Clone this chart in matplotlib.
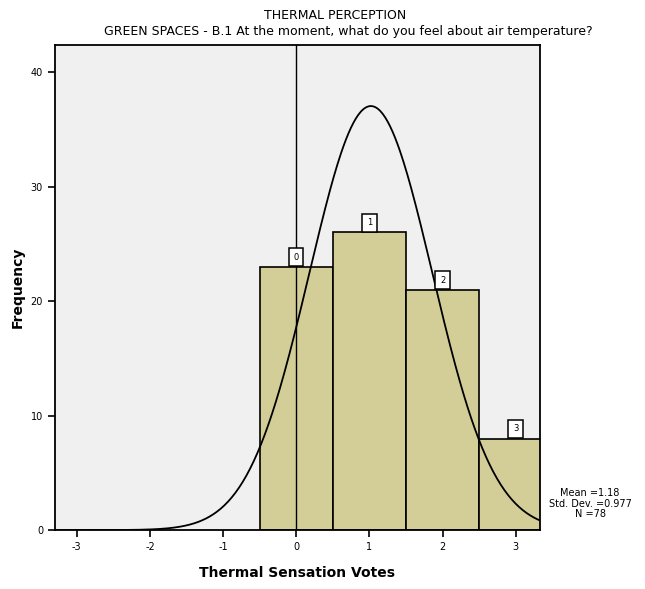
import numpy as np
import matplotlib.pyplot as plt

plt.rcParams['axes.unicode_minus'] = False

# histogram data (thermal sensation votes)
votes = [0, 1, 2, 3]
counts = [23, 26, 21, 8]
bar_labels = ['0', '1', '2', '3']
xticks = [-3, -2, -1, 0, 1, 2, 3]
yticks = [0, 10, 20, 30, 40]

# normal curve as drawn by SPSS
n_total = 78
curve_mean = 1.02
curve_sd = 0.84
stats_text = 'Mean =1.18\nStd. Dev. =0.977\nN =78'

fig = plt.figure(figsize=(6.45, 5.89), dpi=100)
ax = fig.add_axes([0.085, 0.10, 0.752, 0.824])
ax.set_facecolor('#f0f0f0')

ax.bar(votes, counts, width=1.0, color='#d3ce97', edgecolor='black', linewidth=1.2, zorder=2)

for x, c, lab in zip(votes, counts, bar_labels):
    ax.text(x, c + 0.45, lab, ha='center', va='bottom', fontsize=6,
            bbox=dict(boxstyle='square,pad=0.55', fc='white', ec='black', lw=1.1), zorder=4)

xs = np.linspace(-3.3, 3.4, 400)
ys = n_total / (curve_sd * np.sqrt(2 * np.pi)) * np.exp(-0.5 * ((xs - curve_mean) / curve_sd) ** 2)
ax.plot(xs, ys, color='black', linewidth=1.3, zorder=3)

ax.axvline(0, color='black', linewidth=1.0, zorder=3)

ax.set_xlim(-3.3, 3.33)
ax.set_ylim(0, 42.4)
ax.set_xticks(xticks)
ax.set_yticks(yticks)
ax.tick_params(labelsize=7, length=5, width=1.2, direction='out')
for s in ax.spines.values():
    s.set_linewidth(1.3)

ax.set_xlabel('Thermal Sensation Votes', fontsize=10, fontweight='bold', labelpad=10)
ax.set_ylabel('Frequency', fontsize=10, fontweight='bold', labelpad=4)

fig.text(0.52, 0.985, 'THERMAL PERCEPTION', ha='center', va='top', fontsize=9)
fig.text(0.54, 0.957, 'GREEN SPACES - B.1 At the moment, what do you feel about air temperature?',
         ha='center', va='top', fontsize=9)

fig.text(0.915, 0.145, stats_text, ha='center', va='center', fontsize=7, linespacing=1.1)

fig.savefig('out.png', dpi=100)
